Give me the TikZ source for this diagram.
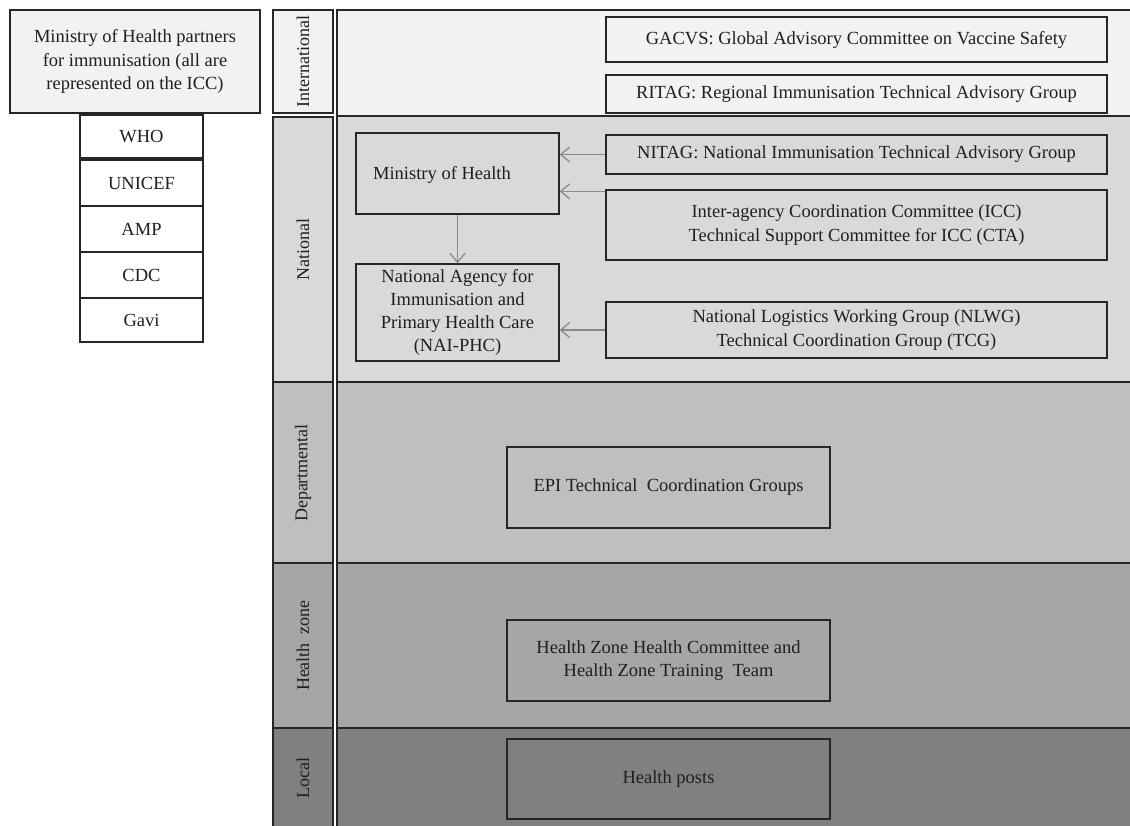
\documentclass[tikz,border=0pt]{standalone}
\usepackage{fontspec}
\setmainfont{Liberation Serif}
\usetikzlibrary{arrows.meta}
\definecolor{cInt}{HTML}{F2F2F2}
\definecolor{cNat}{HTML}{D9D9D9}
\definecolor{cDep}{HTML}{BFBFBF}
\definecolor{cHz}{HTML}{A6A6A6}
\definecolor{cLoc}{HTML}{808080}
\definecolor{cLine}{HTML}{262626}
\definecolor{cArr}{HTML}{8A8A8A}
\tikzset{
  box/.style={draw=cLine, line width=1.4pt, align=center, inner sep=0pt,
    font=\fontsize{18.5}{23.3}\selectfont, text=black!88},
  band/.style={draw=cLine, line width=1.4pt},
  lvl/.style={rotate=90, font=\fontsize{18}{21}\selectfont, text=black!88, inner sep=0pt},
  arr/.style={draw=cArr, line width=1.3pt, -{Straight Barb[length=9pt,width=15pt,line width=1.3pt]}},
}
\begin{document}
\begin{tikzpicture}[x=1pt,y=-1pt]
\useasboundingbox (0,0) rectangle (1130,825);
% bands
\fill[white] (0,0) rectangle (1130,825);
\filldraw[band, fill=cInt] (337,10) rectangle (1140,116);
\filldraw[band, fill=cNat] (337,116) rectangle (1140,382);
\filldraw[band, fill=cDep] (337,382) rectangle (1140,563);
\filldraw[band, fill=cHz] (337,563) rectangle (1140,728);
\filldraw[band, fill=cLoc] (337,728) rectangle (1140,835);
\filldraw[band, fill=cInt] (273,10) rectangle (333,113);
\filldraw[band, fill=cNat] (273,117) rectangle (333,382);
\filldraw[band, fill=cDep] (273,382) rectangle (333,563);
\filldraw[band, fill=cHz] (273,563) rectangle (333,728);
\filldraw[band, fill=cLoc] (273,728) rectangle (333,835);
% level labels
\node[lvl] (lint) at (303,61.5) {International};
\node[lvl] (lnat) at (303,249.5) {National};
\node[lvl] (ldep) at (303,473) {Departmental};
\node[lvl] (lhz) at (303,645.5) {Health\ \ zone};
\node[lvl] (lloc) at (303,778) {Local};
% partners
\node[box, fill=cInt, minimum width=250pt, minimum height=103pt] (partners) at (135,61.5)
  {Ministry of Health partners\\for immunisation (all are\\represented on the ICC)};
\node[box, fill=white, minimum width=123pt, minimum height=43pt] (who) at (141.5,136.5) {WHO};
\node[box, fill=white, minimum width=123pt, minimum height=46pt] (unicef) at (141.5,183) {UNICEF};
\node[box, fill=white, minimum width=123pt, minimum height=46pt] (amp) at (141.5,229) {AMP};
\node[box, fill=white, minimum width=123pt, minimum height=46pt] (cdc) at (141.5,275) {CDC};
\node[box, fill=white, minimum width=123pt, minimum height=44pt] (gavi) at (141.5,320) {Gavi};
% international
\node[box, fill=cInt, minimum width=501pt, minimum height=45pt] (gacvs) at (856.5,39.5)
  {GACVS: Global Advisory Committee on Vaccine Safety};
\node[box, fill=cInt, minimum width=501pt, minimum height=38pt] (ritag) at (856.5,94)
  {RITAG: Regional Immunisation Technical Advisory Group};
% national
\node[box, fill=cNat, minimum width=501pt, minimum height=39pt] (nitag) at (856.5,154.5)
  {NITAG: National Immunisation Technical Advisory Group};
\node[box, fill=cNat, minimum width=501pt, minimum height=70pt] (icc) at (856.5,225)
  {Inter-agency Coordination Committee (ICC)\\Technical Support Committee for ICC (CTA)};
\node[box, fill=cNat, minimum width=501pt, minimum height=56pt] (nlwg) at (856.5,330)
  {National Logistics Working Group (NLWG)\\Technical Coordination Group (TCG)};
\node[box, fill=cNat, minimum width=203pt, minimum height=81pt] (moh) at (457.5,173.5) {};
\node[font=\fontsize{18.5}{23.3}\selectfont, text=black!88, inner sep=0pt] (mohtext) at (442,175) {Ministry of Health};
\node[box, fill=cNat, minimum width=203pt, minimum height=97pt] (nai) at (457.5,312.5)
  {National Agency for\\Immunisation and\\Primary Health Care\\(NAI-PHC)};
% lower levels
\node[box, fill=cDep, minimum width=323pt, minimum height=81pt] (epi) at (668.5,487.5)
  {EPI Technical\ \ Coordination Groups};
\node[box, fill=cHz, minimum width=323pt, minimum height=81pt] (hz) at (668.5,660.5)
  {Health Zone Health Committee and\\Health Zone Training\ \ Team};
\node[box, fill=cLoc, minimum width=323pt, minimum height=80pt] (hp) at (668.5,779)
  {Health posts};
% connectors
\coordinate (iccA) at ([yshift=-2pt]icc.north west);
\draw[arr] (nitag.west) -- (nitag.west -| moh.east);
\draw[arr] (iccA) -- (iccA -| moh.east);
\draw[arr] (nlwg.west) -- (nlwg.west -| nai.east);
\draw[arr] (moh.south) -- (nai.north);
\end{tikzpicture}
\end{document}
